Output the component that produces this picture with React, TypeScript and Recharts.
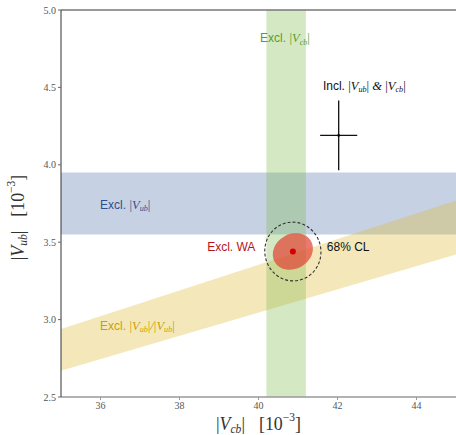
import React from 'react';
import {
  Area,
  ComposedChart,
  ErrorBar,
  ReferenceArea,
  ReferenceDot,
  ReferenceLine,
  Scatter,
  XAxis,
  YAxis,
} from 'recharts';

// axis ticks
const xTicks = [36, 38, 40, 42, 44];
const yTicks = [2.5, 3.0, 3.5, 4.0, 4.5, 5.0];

// exclusive bands (units of 1e-3)
const vcbBand = [40.2, 41.2];
const vubBand = [3.55, 3.95];
const ratioBand = [
  { x: 35, band: [2.67, 2.94] },
  { x: 45, band: [3.42, 3.77] },
];

// world average fit: centre and half extents
const waCenter = [40.87, 3.44];
const waSigma = [0.53, 0.112];
const waCL = [0.71, 0.19];

// inclusive measurement
const inclusive = [{ x: 42.03, y: 4.19, ex: 0.47, ey: 0.225 }];

const sans = "'Liberation Sans', Arial, sans-serif";
const serif = "'Liberation Serif', 'DejaVu Serif', serif";

type Part = { t: string; math?: boolean; it?: boolean; sub?: boolean; sup?: boolean; dx?: number };

const vub: Part[] = [{ t: '|', math: true }, { t: 'V', it: true }, { t: 'ub', sub: true }, { t: '|', math: true }];
const vcb: Part[] = [{ t: '|', math: true }, { t: 'V', it: true }, { t: 'cb', sub: true }, { t: '|', math: true }];
const unit: Part[] = [
  { t: '[10', math: true, dx: 14 },
  { t: '−3', math: true, sup: true },
  { t: ']', math: true },
];

function Rich({ x, y, parts, size, fill, rotate }: { x: number; y: number; parts: Part[]; size: number; fill: string; rotate?: number }) {
  let shift = 0;
  const spans = parts.map((p, i) => {
    const target = p.sub ? size * 0.28 : p.sup ? -size * 0.4 : 0;
    const dy = target - shift;
    shift = target;
    const isMath = p.math || p.it || p.sub || p.sup;
    return (
      <tspan
        key={i}
        dy={dy || undefined}
        dx={p.dx}
        fontFamily={isMath ? serif : sans}
        fontStyle={p.it || p.sub ? 'italic' : 'normal'}
        fontSize={p.sub || p.sup ? size * 0.68 : isMath ? size * 1.05 : size}
      >
        {p.t}
      </tspan>
    );
  });
  return (
    <text
      x={x}
      y={y}
      fill={fill}
      fontSize={size}
      dominantBaseline="central"
      transform={rotate ? `rotate(${rotate} ${x} ${y})` : undefined}
      textAnchor={rotate ? 'middle' : 'start'}
    >
      {spans}
    </text>
  );
}

function tag(x: number, y: number, parts: Part[], fill: string, key: string) {
  return (
    <ReferenceDot
      key={key}
      x={x}
      y={y}
      r={0}
      shape={(p: any) => <Rich x={p.cx} y={p.cy} parts={parts} size={12} fill={fill} />}
    />
  );
}

function ellipseShape(fill: string, stroke: string, dash: string | undefined, angle: number) {
  return (p: any) => {
    const cx = p.x + p.width / 2;
    const cy = p.y + p.height / 2;
    return (
      <ellipse
        cx={cx}
        cy={cy}
        rx={Math.abs(p.width) / 2}
        ry={Math.abs(p.height) / 2}
        fill={fill}
        stroke={stroke}
        strokeDasharray={dash}
        strokeWidth={1.1}
        transform={`rotate(${angle} ${cx} ${cy})`}
      />
    );
  };
}

export default function App() {
  return (
    <div style={{ width: 456, height: 435 }}>
      <style>{'body{margin:0}'}</style>
      <ComposedChart width={456} height={435} margin={{ top: 10, right: 0, bottom: 0, left: 0 }}>
        <XAxis
          type="number"
          dataKey="x"
          domain={[35, 45]}
          ticks={xTicks}
          allowDataOverflow
          height={38}
          tickSize={3}
          tick={{ fontFamily: serif, fontSize: 10, fill: '#555' }}
          stroke="#999"
          axisLine={{ stroke: '#999', strokeWidth: 1.5 }}
          label={{
            content: (p: any) => (
              <Rich x={p.viewBox.x + 155} y={p.viewBox.y + 27} parts={[...vcb, ...unit]} size={17} fill="#333" />
            ),
          }}
        />
        <YAxis
          type="number"
          domain={[2.5, 5]}
          ticks={yTicks}
          allowDataOverflow
          width={61}
          tickSize={3}
          tickFormatter={(v: number) => v.toFixed(1)}
          tick={{ fontFamily: serif, fontSize: 10, fill: '#555' }}
          stroke="#666"
          axisLine={{ stroke: '#333', strokeWidth: 1 }}
          label={{
            content: (p: any) => (
              <Rich x={18} y={p.viewBox.y + p.viewBox.height / 2 + 14} parts={[...vub, ...unit]} size={17} fill="#333" rotate={-90} />
            ),
          }}
        />
        <ReferenceLine y={5} stroke="#777" strokeWidth={1.5} />

        <ReferenceArea x1={35} x2={45} y1={vubBand[0]} y2={vubBand[1]} fill="rgb(70,110,165)" fillOpacity={0.31} stroke="none" />
        <Area
          data={ratioBand}
          dataKey="band"
          type="linear"
          stroke="none"
          fill="rgb(222,185,50)"
          fillOpacity={0.33}
          isAnimationActive={false}
          activeDot={false}
        />
        <ReferenceArea x1={vcbBand[0]} x2={vcbBand[1]} y1={2.5} y2={5} fill="rgb(125,185,70)" fillOpacity={0.32} stroke="none" />

        <ReferenceArea
          x1={waCenter[0] - waCL[0]}
          x2={waCenter[0] + waCL[0]}
          y1={waCenter[1] - waCL[1]}
          y2={waCenter[1] + waCL[1]}
          shape={ellipseShape('none', '#333', '3 2', -10)}
        />
        <ReferenceArea
          x1={waCenter[0] - waSigma[0]}
          x2={waCenter[0] + waSigma[0]}
          y1={waCenter[1] - waSigma[1]}
          y2={waCenter[1] + waSigma[1]}
          shape={ellipseShape('rgba(225,65,50,0.7)', 'none', undefined, -30)}
        />
        <ReferenceDot x={waCenter[0]} y={waCenter[1]} r={3} fill="#d40000" stroke="none" />

        <Scatter
          data={inclusive}
          dataKey="y"
          fill="#000"
          isAnimationActive={false}
          shape={(p: any) => <circle cx={p.cx} cy={p.cy} r={1.3} fill="#000" />}
        >
          <ErrorBar dataKey="ex" direction="x" width={0} stroke="#111" strokeWidth={1.3} isAnimationActive={false} />
          <ErrorBar dataKey="ey" direction="y" width={0} stroke="#111" strokeWidth={1.3} isAnimationActive={false} />
        </Scatter>

        {tag(40.04, 4.816, [{ t: 'Excl. ' }, ...vcb], '#55a02a', 'l1')}
        {tag(41.63, 4.51, [{ t: 'Incl. ' }, ...vub, { t: ' & ', math: true, it: true }, ...vcb], '#111', 'l2')}
        {tag(35.99, 3.74, [{ t: 'Excl. ' }, ...vub], '#2d4f8e', 'l3')}
        {tag(38.7, 3.47, [{ t: 'Excl. WA' }], '#b5141a', 'l4')}
        {tag(41.73, 3.47, [{ t: '68% CL' }], '#111', 'l5')}
        {tag(35.99, 2.96, [{ t: 'Excl. ' }, ...vub, { t: '/', math: true, it: true }, ...vub], '#c9a100', 'l6')}
      </ComposedChart>
    </div>
  );
}
